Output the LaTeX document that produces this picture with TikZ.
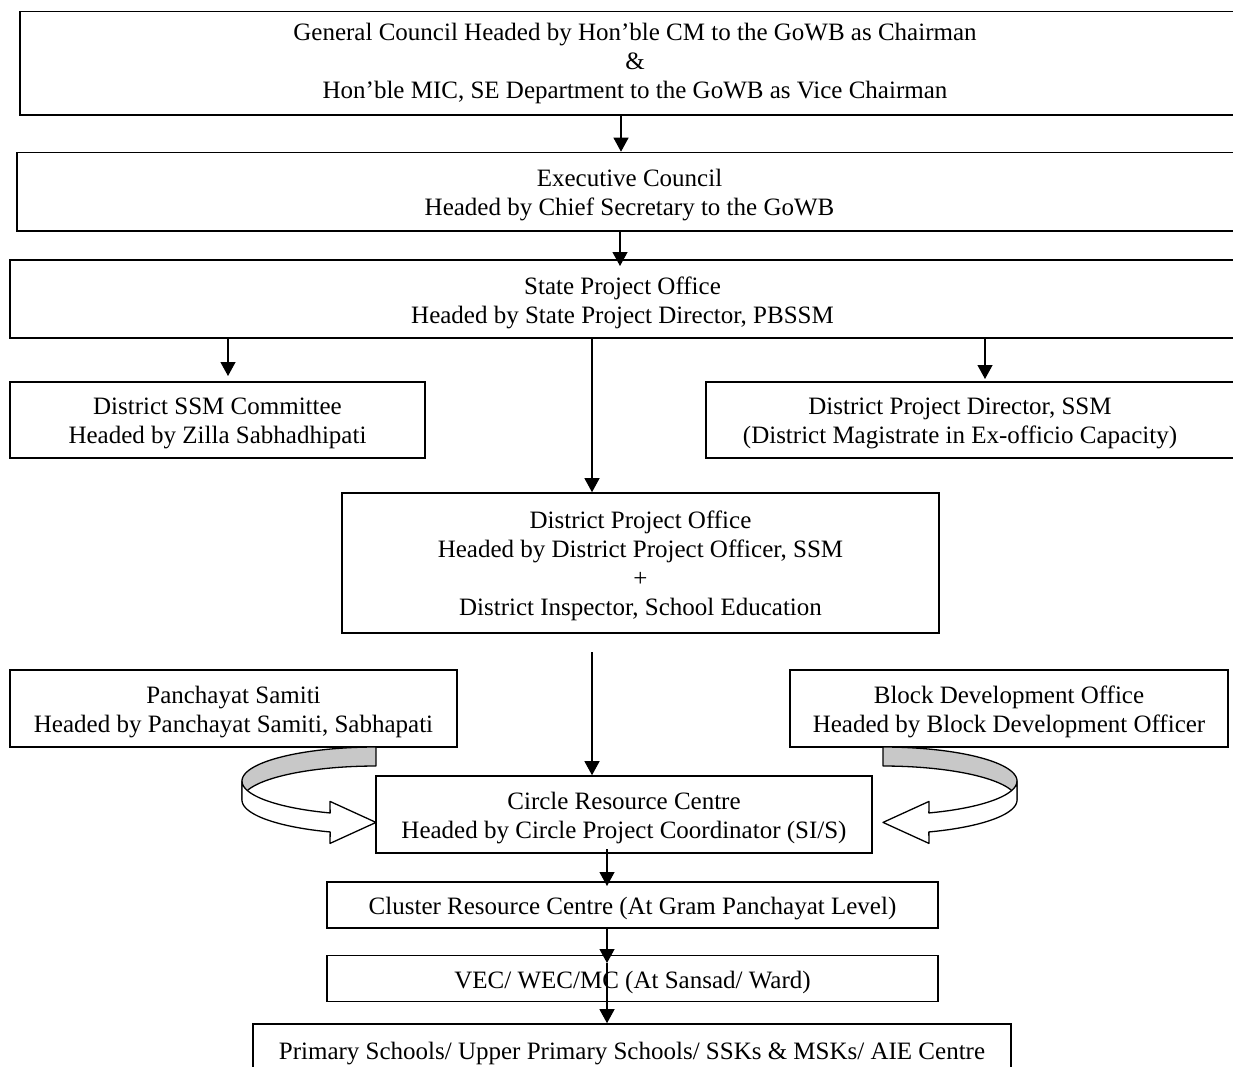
\documentclass[tikz,border=0pt]{standalone}
\usepackage{fontspec}
\setmainfont{Liberation Serif}
\usetikzlibrary{arrows.meta}
\definecolor{ribgray}{RGB}{200,200,200}
\newcommand\myribbon{%
  \filldraw[ribbon, fill=ribgray]
    plot[domain=0:1, samples=40, variable=\q] ({134*cos(-90-90*\q)},{34*sin(-90-90*\q)})
    -- plot[domain=0:1, samples=40, variable=\q] ({134*cos(180+90*\q)},{19+34*sin(180+90*\q)})
    -- cycle;
  \filldraw[ribbon, fill=white]
    plot[domain=0:1, samples=40, variable=\q] ({134*cos(180-70*\q)},{34*sin(180-70*\q)})
    -- (-46,20.4) -- (0,41.4) -- (-46,62.4)
    -- plot[domain=0:1, samples=40, variable=\q] ({134*cos(110+70*\q)},{19+34*sin(110+70*\q)})
    -- cycle;
}
\begin{document}
\begin{tikzpicture}[x=1pt,y=-1pt,
  box/.style={draw, line width=1.6pt, rectangle, inner sep=0pt},
  txt/.style={inner sep=0pt, align=center, yshift=-3.5pt,
              font=\fontsize{25}{29}\selectfont},
  arr/.style={line width=1.2pt, -{Triangle[width=15pt,length=14pt]}},
  ribbon/.style={draw, line width=1.3pt, line join=round}
]
\useasboundingbox (0,0) rectangle (1233,1066);
\clip (0,0) rectangle (1233,1066);

% boxes
\node[box, minimum width=1230pt, minimum height=103.5pt,
  label={[txt, yshift=3.5pt]center:{General Council Headed by Hon’ble CM to the GoWB as Chairman\\ \&\\ Hon’ble MIC, SE Department to the GoWB as Vice Chairman}}]
  (gc) at (635,63.25) {};
\node[box, minimum width=1225pt, minimum height=78.5pt,
  label={[txt]center:{Executive Council\\ Headed by Chief Secretary to the GoWB}}]
  (ec) at (629.5,191.75) {};
\node[box, minimum width=1225pt, minimum height=78pt,
  label={[txt]center:{State Project Office\\ Headed by State Project Director, PBSSM}}]
  (spo) at (622.5,299) {};
\node[box, minimum width=415pt, minimum height=76pt,
  label={[txt]center:{District SSM Committee\\ Headed by Zilla Sabhadhipati}}]
  (ssm) at (217.5,420) {};
\node[box, minimum width=540pt, minimum height=76pt,
  label={[txt, xshift=-16pt]center:{District Project Director, SSM\\ (District Magistrate in Ex-officio Capacity)}}]
  (dpd) at (976,420) {};
\node[box, minimum width=597pt, minimum height=140pt,
  label={[txt, yshift=1pt]center:{District Project Office\\ Headed by District Project Officer, SSM\\ +\\ District Inspector, School Education}}]
  (dpo) at (640.5,563) {};
\node[box, minimum width=447pt, minimum height=77pt,
  label={[txt]center:{Panchayat Samiti\\ Headed by Panchayat Samiti, Sabhapati}}]
  (ps) at (233.5,708.5) {};
\node[box, minimum width=438pt, minimum height=77pt,
  label={[txt]center:{Block Development Office\\ Headed by Block Development Officer}}]
  (bdo) at (1009,708.5) {};
\node[box, minimum width=496pt, minimum height=77pt,
  label={[txt]center:{Circle Resource Centre\\ Headed by Circle Project Coordinator (SI/S)}}]
  (crc) at (624,814.5) {};
\node[box, minimum width=611pt, minimum height=46pt,
  label={[txt]center:{Cluster Resource Centre (At Gram Panchayat Level)}}]
  (clu) at (632.5,905) {};
\node[box, minimum width=611pt, minimum height=46pt,
  label={[txt]center:{VEC/ WEC/MC (At Sansad/ Ward)}}]
  (vec) at (632.5,978.5) {};
\node[box, minimum width=758pt, minimum height=60pt,
  label={[txt, yshift=3.5pt]center:{Primary Schools/ Upper Primary Schools/ SSKs \& MSKs/ AIE Centre}}]
  (pri) at (632,1054) {};

% connector ends
\coordinate (x1) at (621,0);
\coordinate (e2) at (620,266);
\coordinate (e3) at (228,376);
\coordinate (e4) at (985,379);
\coordinate (x5) at (592,0);
\coordinate (s6) at (592,652);
\coordinate (s7) at (607,849);
\coordinate (e7) at (607,886);
\coordinate (e8) at (607,963);

\draw[arr] (gc.south -| x1) -- (ec.north -| x1);
\draw[arr] (ec.south -| e2) -- (e2);
\draw[arr] (spo.south -| e3) -- (e3);
\draw[arr] (spo.south -| e4) -- (e4);
\draw[arr] (spo.south -| x5) -- (dpo.north -| x5);
\draw[arr] (s6) -- (crc.north -| s6);
\draw[arr] (s7) -- (e7);
\draw[arr] (clu.south -| e8) -- (e8);
\draw[arr] (e8) -- (pri.north -| e8);

% ribbon arrows
\begin{scope}[shift={(376,781)}]
  \myribbon
\end{scope}
\begin{scope}[shift={(883,781)}, xscale=-1]
  \myribbon
\end{scope}
\end{tikzpicture}
\end{document}
